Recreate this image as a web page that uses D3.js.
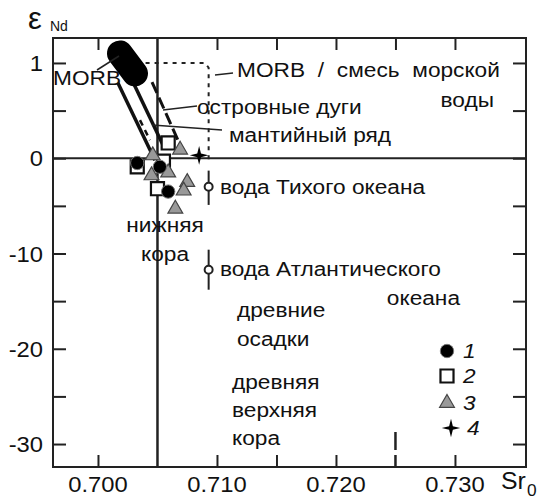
<!DOCTYPE html>
<html><head><meta charset="utf-8">
<script src="https://cdn.jsdelivr.net/npm/d3@7"></script>
<style>
body{margin:0;background:#fff;}
text{font-family:Arial,"Liberation Sans",sans-serif;fill:#111;}
</style></head><body>
<svg id="c" width="538" height="499"></svg>
<script>
// ---- data ----
const yTicks = [10, 0, -10, -20, -30];
const yTickLabels = ["1", "0", "-10", "-20", "-30"];
const yMinorTicks = [5, -5, -15, -25];
const xTicks = [0.700, 0.710, 0.720, 0.730];
const xTickLabels = ["0.700", "0.710", "0.720", "0.730"];
const xMinorTicks = [0.715, 0.725];
const group1 = [[0.7033, -0.5], [0.7052, -0.9], [0.7059, -3.5]];          // circles
const group2 = [[0.7059, 1.6], [0.7033, -0.9], [0.7050, -3.2], [0.7055, -0.3]]; // squares
const group3 = [[0.7069, 1.1], [0.7046, 0.5], [0.7045, -1.6], [0.7059, -1.3],
                [0.7075, -2.3], [0.7072, -3.2], [0.7065, -5.1]];          // triangles
const group4 = [[0.7085, 0.3]];                                            // stars
const seawater = [
  {name: "вода Тихого океана", sr: 0.7093, nd: -3.0, lo: -1.3, hi: -4.9},
  {name: "вода Атлантического", sr: 0.7093, nd: -11.7, lo: -9.6, hi: -13.8}
];
const morb = [[0.70185, 11.0], [0.70311, 8.9]];
const mantleLines = [
  {pts: [[0.70168, 7.9], [0.70479, -0.2]], w: 3.5, dash: null},
  {pts: [[0.70286, 8.2], [0.70546, 1.4]], w: 3.5, dash: null},
  {pts: [[0.70454, 8.0], [0.70672, 1.9]], w: 3, dash: "12,5"},
  {pts: [[0.70353, 4.0], [0.70437, 1.9]], w: 2.5, dash: "6,5"}
];
const mixLine = [[0.7040, 10.0], [0.7090, 10.0], [0.7093, 9.5], [0.7093, -0.5]];

// ---- scales ----
const L = 53, R = 526, T = 38, B = 467;
const x = d3.scaleLinear().domain([0.69622, 0.73597]).range([L, R]);
const y = d3.scaleLinear().domain([-32.41, 12.62]).range([B, T]);
const svg = d3.select("#c");
const line = d3.line().x(d => x(d[0])).y(d => y(d[1]));
const SX = 1.08;
function label(g, px, py, str, size, anchor, extra) {
  const t = g.append("text").attr("transform", `translate(${px},${py}) scale(${SX},1)`)
    .attr("font-size", size).attr("text-anchor", anchor || "start").text(str);
  if (extra) extra(t);
  return t;
}

// reference lines
svg.append("line").attr("x1", L).attr("x2", R).attr("y1", y(0)).attr("y2", y(0))
  .attr("stroke", "#222").attr("stroke-width", 2);
svg.append("line").attr("x1", x(0.705)).attr("x2", x(0.705)).attr("y1", T).attr("y2", B)
  .attr("stroke", "#222").attr("stroke-width", 2.5);

// axes (inward ticks)
const axL = svg.append("g").attr("transform", `translate(${L},0)`)
  .call(d3.axisRight(y).tickValues(yTicks.concat(yMinorTicks)).tickSize(13).tickFormat(""));
const axR = svg.append("g").attr("transform", `translate(${R},0)`)
  .call(d3.axisLeft(y).tickValues(yTicks.concat(yMinorTicks)).tickSize(13).tickFormat(""));
const axT = svg.append("g").attr("transform", `translate(0,${T})`)
  .call(d3.axisBottom(x).tickValues(xTicks.concat(xMinorTicks)).tickSize(12).tickFormat(""));
const axB = svg.append("g").attr("transform", `translate(0,${B})`)
  .call(d3.axisTop(x).tickValues(xTicks.concat([0.715])).tickSize(12).tickFormat(""));
[axL, axR, axT, axB].forEach(g => {
  g.select(".domain").remove();
  g.selectAll(".tick line").attr("stroke", "#222").attr("stroke-width", 2);
});
// long bottom mark at 0.725
svg.append("line").attr("x1", x(0.725)).attr("x2", x(0.725)).attr("y1", 432).attr("y2", 450)
  .attr("stroke", "#222").attr("stroke-width", 2.5);
svg.append("line").attr("x1", x(0.725)).attr("x2", x(0.725)).attr("y1", 455).attr("y2", B)
  .attr("stroke", "#222").attr("stroke-width", 2.5);

// frame
svg.append("rect").attr("x", L).attr("y", T).attr("width", R - L).attr("height", B - T)
  .attr("fill", "none").attr("stroke", "#222").attr("stroke-width", 2);

// tick labels
const tl = svg.append("g");
yTicks.forEach((d, i) => label(tl, 43, y(d) + 8, yTickLabels[i], 22, "end"));
xTicks.forEach((d, i) => label(tl, x(d), 492, xTickLabels[i], 22, "middle"));

// axis titles
svg.append("text").attr("x", 28).attr("y", 29).attr("font-size", 31).text("ε");
svg.append("text").attr("x", 50).attr("y", 31).attr("font-size", 14).text("Nd");
label(svg, 501, 489, "Sr", 23);
label(svg, 527, 496, "0", 16);

// MORB / seawater mixing dotted line
svg.append("path").attr("d", line(mixLine)).attr("fill", "none").attr("stroke", "#222")
  .attr("stroke-width", 2).attr("stroke-dasharray", "4,5");

// mantle array lines
svg.append("g").selectAll("path").data(mantleLines).join("path")
  .attr("d", d => line(d.pts)).attr("fill", "none").attr("stroke", "#111")
  .attr("stroke-width", d => d.w).attr("stroke-dasharray", d => d.dash);

// MORB blob
svg.append("path").attr("d", line(morb)).attr("stroke", "#000").attr("stroke-width", 26)
  .attr("stroke-linecap", "round").attr("fill", "none");

// leader lines
const leaders = [[97, 70, 119, 56], [215, 75, 233, 73], [163, 110, 197, 106], [152, 125, 222, 130]];
svg.append("g").selectAll("line").data(leaders).join("line")
  .attr("x1", d => d[0]).attr("y1", d => d[1]).attr("x2", d => d[2]).attr("y2", d => d[3])
  .attr("stroke", "#222").attr("stroke-width", 1.5);

// seawater markers
const sw = svg.append("g").selectAll("g").data(seawater).join("g");
sw.append("line").attr("x1", d => x(d.sr)).attr("x2", d => x(d.sr))
  .attr("y1", d => y(d.lo)).attr("y2", d => y(d.hi)).attr("stroke", "#222").attr("stroke-width", 2);
sw.append("circle").attr("cx", d => x(d.sr)).attr("cy", d => y(d.nd)).attr("r", 4)
  .attr("fill", "#fff").attr("stroke", "#222").attr("stroke-width", 2);

// symbols
const star4 = {draw(ctx, size) {
  const r = Math.sqrt(size) / 1.6, i = r * 0.2;
  ctx.moveTo(0, -r); ctx.lineTo(i, -i); ctx.lineTo(r, 0); ctx.lineTo(i, i);
  ctx.lineTo(0, r); ctx.lineTo(-i, i); ctx.lineTo(-r, 0); ctx.lineTo(-i, -i); ctx.closePath();
}};
const sq = d3.symbol(d3.symbolSquare, 170)();
const tri = d3.symbol(d3.symbolTriangle, 95)();
const circ = d3.symbol(d3.symbolCircle, 140)();
const star = d3.symbol(star4, 220)();
const pts = svg.append("g");
pts.selectAll(".sq").data(group2).join("path").attr("class", "sq").attr("d", sq)
  .attr("transform", d => `translate(${x(d[0])},${y(d[1])})`)
  .attr("fill", "#fff").attr("stroke", "#111").attr("stroke-width", 2.2);
pts.selectAll(".tri").data(group3).join("path").attr("class", "tri").attr("d", tri)
  .attr("transform", d => `translate(${x(d[0])},${y(d[1]) + 2})`)
  .attr("fill", "#999").attr("stroke", "#444").attr("stroke-width", 1.2);
pts.selectAll(".ci").data(group1).join("path").attr("class", "ci").attr("d", circ)
  .attr("transform", d => `translate(${x(d[0])},${y(d[1])})`)
  .attr("fill", "#000").attr("stroke", "#777").attr("stroke-width", 1);
pts.selectAll(".st").data(group4).join("path").attr("class", "st").attr("d", star)
  .attr("transform", d => `translate(${x(d[0])},${y(d[1])})`)
  .attr("fill", "#000");

// annotations
const ann = [
  ["MORB", 53, 85, "start"],
  ["MORB / смесь морской", 237, 77, "start"],
  ["воды", 494, 107, "end"],
  ["островные дуги", 197, 114, "start"],
  ["мантийный ряд", 229, 142, "start"],
  ["вода Тихого океана", 220, 194, "start"],
  ["нижняя", 165, 232, "middle"],
  ["кора", 165, 261, "middle"],
  ["вода Атлантического", 220, 276, "start"],
  ["океана", 460, 305, "end"],
  ["древние", 237, 317, "start"],
  ["осадки", 237, 346, "start"],
  ["древняя", 232, 389, "start"],
  ["верхняя", 232, 417, "start"],
  ["кора", 232, 445, "start"]
];
const ag = svg.append("g");
ann.forEach(a => {
  const t = label(ag, a[1], a[2], a[0], 21, a[3]);
  if (a[0].startsWith("MORB /")) t.attr("word-spacing", 6);
});

// legend
const lg = svg.append("g");
const legItems = [[circ, "#000", "#777", 1, "1", 351, 447], [sq, "#fff", "#111", 2.2, "2", 376, 447],
                  [tri, "#999", "#444", 1.2, "3", 403, 447], [star, "#000", "none", 0, "4", 428, 451]];
legItems.forEach(it => {
  lg.append("path").attr("d", it[0]).attr("transform", `translate(${it[6]},${it[5]})`)
    .attr("fill", it[1]).attr("stroke", it[2]).attr("stroke-width", it[3]);
  label(lg, it[6] + 16, it[5] + 7, it[4], 21, "start", t => t.attr("font-style", "italic"));
});
</script></body></html>
